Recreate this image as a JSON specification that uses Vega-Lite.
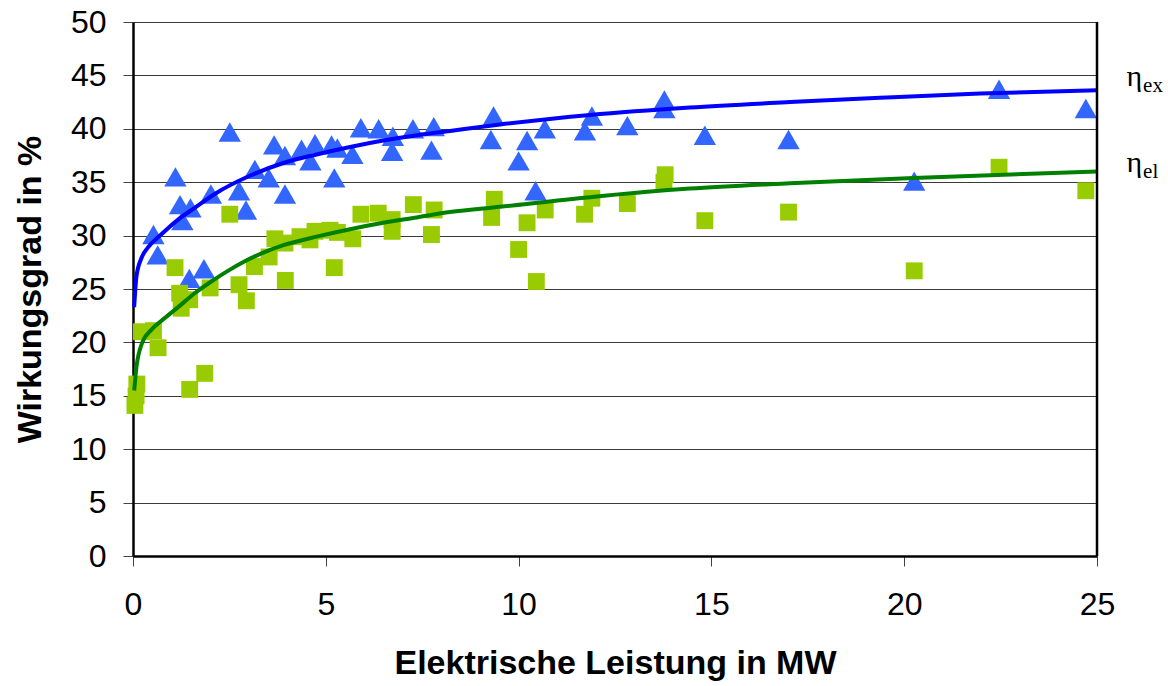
{
  "$schema": "https://vega.github.io/schema/vega-lite/v6.json",
  "width": 964,
  "height": 534,
  "autosize": {"type": "none"},
  "padding": {"left": 133, "top": 22, "right": 71, "bottom": 130},
  "background": "white",
  "config": {
    "view": {"stroke": null},
    "font": "Liberation Sans",
    "axis": {
      "labelFont": "Liberation Sans",
      "titleFont": "Liberation Sans",
      "labelColor": "black",
      "titleColor": "black",
      "labelFontSize": 32,
      "titleFontSize": 34,
      "titleFontWeight": "bold",
      "domainColor": "black",
      "domainWidth": 2.5,
      "tickColor": "#444444",
      "tickWidth": 1,
      "tickSize": 10
    }
  },
  "resolve": {"scale": {"color": "independent", "shape": "independent", "size": "independent"}},
  "datasets": {
    "points": [
      {"P": 0.53, "eta": 30.1, "serie": "ex"},
      {"P": 0.64, "eta": 28.2, "serie": "ex"},
      {"P": 1.1, "eta": 35.5, "serie": "ex"},
      {"P": 1.22, "eta": 32.9, "serie": "ex"},
      {"P": 1.28, "eta": 31.4, "serie": "ex"},
      {"P": 1.49, "eta": 32.6, "serie": "ex"},
      {"P": 1.46, "eta": 26.0, "serie": "ex"},
      {"P": 1.84, "eta": 26.9, "serie": "ex"},
      {"P": 2.02, "eta": 33.9, "serie": "ex"},
      {"P": 2.51, "eta": 39.7, "serie": "ex"},
      {"P": 2.75, "eta": 34.2, "serie": "ex"},
      {"P": 2.93, "eta": 32.4, "serie": "ex"},
      {"P": 3.16, "eta": 36.2, "serie": "ex"},
      {"P": 3.52, "eta": 35.4, "serie": "ex"},
      {"P": 3.66, "eta": 38.5, "serie": "ex"},
      {"P": 3.94, "eta": 37.5, "serie": "ex"},
      {"P": 3.94, "eta": 33.9, "serie": "ex"},
      {"P": 4.37, "eta": 38.1, "serie": "ex"},
      {"P": 4.6, "eta": 37.0, "serie": "ex"},
      {"P": 4.72, "eta": 38.6, "serie": "ex"},
      {"P": 5.15, "eta": 38.5, "serie": "ex"},
      {"P": 5.3, "eta": 38.2, "serie": "ex"},
      {"P": 5.22, "eta": 35.4, "serie": "ex"},
      {"P": 5.69, "eta": 37.6, "serie": "ex"},
      {"P": 5.91, "eta": 40.1, "serie": "ex"},
      {"P": 6.37, "eta": 40.0, "serie": "ex"},
      {"P": 6.74, "eta": 39.3, "serie": "ex"},
      {"P": 6.72, "eta": 37.9, "serie": "ex"},
      {"P": 7.26, "eta": 40.0, "serie": "ex"},
      {"P": 7.8, "eta": 40.2, "serie": "ex"},
      {"P": 7.74, "eta": 38.0, "serie": "ex"},
      {"P": 9.35, "eta": 41.2, "serie": "ex"},
      {"P": 9.28, "eta": 39.0, "serie": "ex"},
      {"P": 10.22, "eta": 38.9, "serie": "ex"},
      {"P": 10.0, "eta": 37.0, "serie": "ex"},
      {"P": 10.68, "eta": 40.0, "serie": "ex"},
      {"P": 10.44, "eta": 34.2, "serie": "ex"},
      {"P": 11.72, "eta": 39.8, "serie": "ex"},
      {"P": 11.9, "eta": 41.2, "serie": "ex"},
      {"P": 12.82, "eta": 40.3, "serie": "ex"},
      {"P": 13.78, "eta": 42.7, "serie": "ex"},
      {"P": 13.78, "eta": 41.9, "serie": "ex"},
      {"P": 14.83, "eta": 39.4, "serie": "ex"},
      {"P": 17.0, "eta": 39.0, "serie": "ex"},
      {"P": 20.26, "eta": 35.1, "serie": "ex"},
      {"P": 22.46, "eta": 43.7, "serie": "ex"},
      {"P": 24.71, "eta": 41.9, "serie": "ex"},
      {"P": 0.05, "eta": 14.1, "serie": "el"},
      {"P": 0.08, "eta": 15.0, "serie": "el"},
      {"P": 0.1, "eta": 16.1, "serie": "el"},
      {"P": 0.22, "eta": 21.0, "serie": "el"},
      {"P": 0.53, "eta": 21.1, "serie": "el"},
      {"P": 0.65, "eta": 19.5, "serie": "el"},
      {"P": 1.09, "eta": 27.0, "serie": "el"},
      {"P": 1.21, "eta": 24.6, "serie": "el"},
      {"P": 1.25, "eta": 23.2, "serie": "el"},
      {"P": 1.47, "eta": 24.0, "serie": "el"},
      {"P": 1.47, "eta": 15.6, "serie": "el"},
      {"P": 1.86, "eta": 17.1, "serie": "el"},
      {"P": 2.0, "eta": 25.1, "serie": "el"},
      {"P": 2.51, "eta": 32.0, "serie": "el"},
      {"P": 2.75, "eta": 25.4, "serie": "el"},
      {"P": 2.94, "eta": 23.9, "serie": "el"},
      {"P": 3.15, "eta": 27.1, "serie": "el"},
      {"P": 3.53, "eta": 28.0, "serie": "el"},
      {"P": 3.68, "eta": 29.7, "serie": "el"},
      {"P": 3.94, "eta": 29.3, "serie": "el"},
      {"P": 3.95, "eta": 25.8, "serie": "el"},
      {"P": 4.33, "eta": 29.9, "serie": "el"},
      {"P": 4.59, "eta": 29.6, "serie": "el"},
      {"P": 4.72, "eta": 30.4, "serie": "el"},
      {"P": 5.11, "eta": 30.5, "serie": "el"},
      {"P": 5.3, "eta": 30.3, "serie": "el"},
      {"P": 5.22, "eta": 27.0, "serie": "el"},
      {"P": 5.7, "eta": 29.7, "serie": "el"},
      {"P": 5.91, "eta": 32.0, "serie": "el"},
      {"P": 6.36, "eta": 32.1, "serie": "el"},
      {"P": 6.72, "eta": 31.5, "serie": "el"},
      {"P": 6.72, "eta": 30.4, "serie": "el"},
      {"P": 7.27, "eta": 32.9, "serie": "el"},
      {"P": 7.81, "eta": 32.4, "serie": "el"},
      {"P": 7.74, "eta": 30.1, "serie": "el"},
      {"P": 9.37, "eta": 33.4, "serie": "el"},
      {"P": 9.3, "eta": 31.7, "serie": "el"},
      {"P": 10.22, "eta": 31.2, "serie": "el"},
      {"P": 10.0, "eta": 28.7, "serie": "el"},
      {"P": 10.69, "eta": 32.4, "serie": "el"},
      {"P": 10.46, "eta": 25.7, "serie": "el"},
      {"P": 11.71, "eta": 32.0, "serie": "el"},
      {"P": 11.9, "eta": 33.5, "serie": "el"},
      {"P": 12.82, "eta": 33.0, "serie": "el"},
      {"P": 13.8, "eta": 35.7, "serie": "el"},
      {"P": 13.77, "eta": 35.0, "serie": "el"},
      {"P": 14.83, "eta": 31.4, "serie": "el"},
      {"P": 17.0, "eta": 32.2, "serie": "el"},
      {"P": 20.26, "eta": 26.7, "serie": "el"},
      {"P": 22.46, "eta": 36.4, "serie": "el"},
      {"P": 24.71, "eta": 34.2, "serie": "el"}
    ],
    "curves": [
      {"P": 0.03, "eta": 23.3, "serie": "ex"},
      {"P": 0.09, "eta": 26.2, "serie": "ex"},
      {"P": 0.22, "eta": 27.9, "serie": "ex"},
      {"P": 0.39, "eta": 28.9, "serie": "ex"},
      {"P": 0.73, "eta": 30.1, "serie": "ex"},
      {"P": 1.17, "eta": 31.5, "serie": "ex"},
      {"P": 1.6, "eta": 32.6, "serie": "ex"},
      {"P": 2.12, "eta": 33.9, "serie": "ex"},
      {"P": 3.03, "eta": 35.6, "serie": "ex"},
      {"P": 3.9, "eta": 36.8, "serie": "ex"},
      {"P": 4.76, "eta": 37.6, "serie": "ex"},
      {"P": 5.63, "eta": 38.3, "serie": "ex"},
      {"P": 6.49, "eta": 38.9, "serie": "ex"},
      {"P": 7.36, "eta": 39.4, "serie": "ex"},
      {"P": 8.22, "eta": 39.8, "serie": "ex"},
      {"P": 9.52, "eta": 40.4, "serie": "ex"},
      {"P": 11.85, "eta": 41.3, "serie": "ex"},
      {"P": 14.44, "eta": 42.0, "serie": "ex"},
      {"P": 17.04, "eta": 42.5, "serie": "ex"},
      {"P": 19.37, "eta": 42.9, "serie": "ex"},
      {"P": 21.97, "eta": 43.3, "serie": "ex"},
      {"P": 25.0, "eta": 43.6, "serie": "ex"},
      {"P": 0.03, "eta": 15.5, "serie": "el"},
      {"P": 0.09, "eta": 17.7, "serie": "el"},
      {"P": 0.22, "eta": 19.8, "serie": "el"},
      {"P": 0.48, "eta": 21.2, "serie": "el"},
      {"P": 0.73, "eta": 22.0, "serie": "el"},
      {"P": 1.17, "eta": 23.3, "serie": "el"},
      {"P": 1.6, "eta": 24.6, "serie": "el"},
      {"P": 2.03, "eta": 25.7, "serie": "el"},
      {"P": 2.46, "eta": 26.7, "serie": "el"},
      {"P": 2.9, "eta": 27.6, "serie": "el"},
      {"P": 3.9, "eta": 29.1, "serie": "el"},
      {"P": 4.76, "eta": 29.9, "serie": "el"},
      {"P": 5.63, "eta": 30.6, "serie": "el"},
      {"P": 6.49, "eta": 31.2, "serie": "el"},
      {"P": 7.36, "eta": 31.7, "serie": "el"},
      {"P": 8.22, "eta": 32.2, "serie": "el"},
      {"P": 9.52, "eta": 32.7, "serie": "el"},
      {"P": 11.85, "eta": 33.6, "serie": "el"},
      {"P": 14.44, "eta": 34.4, "serie": "el"},
      {"P": 17.04, "eta": 34.9, "serie": "el"},
      {"P": 20.24, "eta": 35.4, "serie": "el"},
      {"P": 25.0, "eta": 36.0, "serie": "el"}
    ],
    "labels": [
      {"P": 26.17, "eta": 44.0, "sym": "η", "sub": "ex"},
      {"P": 26.17, "eta": 36.0, "sym": "η", "sub": "el"}
    ]
  },
  "layer": [
    {
      "data": {"name": "points"},
      "mark": {"type": "point", "filled": true, "opacity": 1, "strokeWidth": 0},
      "encoding": {
        "x": {
          "field": "P", "type": "quantitative",
          "scale": {"domain": [0, 25], "nice": false, "zero": true},
          "axis": {
            "title": "Elektrische Leistung in MW",
            "values": [0, 5, 10, 15, 20, 25],
            "grid": false,
            "labelPadding": 23,
            "titlePadding": 26,
            "labelFlush": false
          }
        },
        "y": {
          "field": "eta", "type": "quantitative",
          "scale": {"domain": [0, 50], "nice": false},
          "axis": {
            "title": "Wirkungsgrad in %",
            "values": [0, 5, 10, 15, 20, 25, 30, 35, 40, 45, 50],
            "grid": true,
            "gridColor": "#3a3a3a",
            "gridWidth": 1,
            "labelPadding": 17,
            "titlePadding": 23,
            "labelFlush": false
          }
        },
        "shape": {
          "field": "serie", "type": "nominal",
          "scale": {"domain": ["ex", "el"], "range": ["triangle-up", "square"]},
          "legend": null
        },
        "color": {
          "field": "serie", "type": "nominal",
          "scale": {"domain": ["ex", "el"], "range": ["#3366FF", "#99CC00"]},
          "legend": null
        },
        "size": {
          "field": "serie", "type": "nominal",
          "scale": {"domain": ["ex", "el"], "range": [500, 285]},
          "legend": null
        }
      }
    },
    {
      "data": {"name": "curves"},
      "mark": {"type": "line", "interpolate": "monotone", "strokeWidth": 4},
      "encoding": {
        "x": {"field": "P", "type": "quantitative"},
        "y": {"field": "eta", "type": "quantitative"},
        "detail": {"field": "serie"},
        "color": {
          "field": "serie", "type": "nominal",
          "scale": {"domain": ["ex", "el"], "range": ["#0000FF", "#008000"]},
          "legend": null
        }
      }
    },
    {
      "data": {"values": [{}]},
      "mark": {"type": "rule", "color": "black", "strokeWidth": 2.5},
      "encoding": {
        "x": {"datum": 25},
        "y": {"datum": 0},
        "y2": {"datum": 50}
      }
    },
    {
      "data": {"name": "labels"},
      "mark": {"type": "text", "font": "Liberation Serif", "fontSize": 30, "align": "right", "baseline": "alphabetic", "color": "black"},
      "encoding": {
        "x": {"field": "P", "type": "quantitative"},
        "y": {"field": "eta", "type": "quantitative"},
        "text": {"field": "sym"}
      }
    },
    {
      "data": {"name": "labels"},
      "mark": {"type": "text", "font": "Liberation Serif", "fontSize": 21, "align": "left", "baseline": "alphabetic", "dx": 1, "dy": 6, "color": "black"},
      "encoding": {
        "x": {"field": "P", "type": "quantitative"},
        "y": {"field": "eta", "type": "quantitative"},
        "text": {"field": "sub"}
      }
    }
  ]
}
